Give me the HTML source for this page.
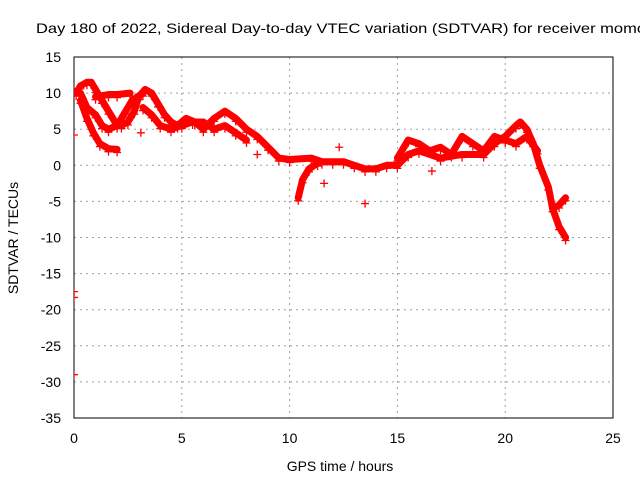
<!DOCTYPE html>
<html><head><meta charset="utf-8"><style>
html,body{margin:0;padding:0;background:#fff;overflow:hidden}
svg{display:block;font-family:"Liberation Sans",sans-serif}
</style></head><body>
<svg id="chart" width="640" height="480" viewBox="0 0 640 480">
<text x="36" y="33" font-size="14" textLength="610" lengthAdjust="spacingAndGlyphs" fill="#000">Day 180 of 2022, Sidereal Day-to-day VTEC variation (SDTVAR) for receiver momo</text>
<g id="grid"></g><g id="axes"></g>
<g id="series" clip-path="url(#clip)"></g>
<defs><clipPath id="clip"><rect x="74" y="57" width="539" height="361"/></clipPath></defs>
<text x="340" y="471" font-size="14" text-anchor="middle">GPS time / hours</text>
<text transform="translate(18,238) rotate(-90)" font-size="14" text-anchor="middle">SDTVAR / TECUs</text>
</svg>
<script>
const xTicks=[0,5,10,15,20,25];
const yTicks=[15,10,5,0,-5,-10,-15,-20,-25,-30,-35];
const seriesA=[[0.1,10],[0.3,11],[0.6,11.5],[0.8,11.5],[1.0,10.5],[1.3,9],[1.6,7.5],[1.9,6],[2.2,5.5],[2.5,6],[2.8,7.5],[3.0,9.5],[3.3,10.5],[3.6,10],[3.9,8.5],[4.2,7],[4.5,6],[4.8,5.5],[5.2,6.5],[5.6,6],[6.0,5],[6.5,6.5],[7.0,7.5],[7.5,6.5],[8.0,5],[8.5,4],[9.0,2.5],[9.5,1],[10,0.8],[11,1],[11.5,0.5],[12,0.5],[12.5,0.5],[13,0],[13.5,-0.5],[14,-0.5],[14.5,0],[15,0],[15.5,1.5],[16,2],[17,1],[18,1.5],[19,1.5],[19.5,3],[20,4],[20.5,5.5],[20.7,6],[21,5],[21.3,3],[21.6,0],[22,-3],[22.2,-6],[22.5,-8.5],[22.8,-10]];
const seriesB=[[0.3,10],[0.6,8],[1.0,7],[1.3,5.5],[1.6,5],[2.0,5.5],[2.4,7.5],[2.7,9],[3.2,10]];
const seriesB2=[[1.0,9.5],[1.6,9.8],[2.0,9.8],[2.6,10]];
const seriesC=[[0.3,9],[0.6,6.5],[0.9,4.5],[1.2,3],[1.6,2.3],[2.0,2.2]];
const seriesD=[[3.2,8],[3.6,7],[4.0,5.5],[4.5,5],[5,5.5],[5.5,6],[6,6],[6.5,5],[7,5.5],[7.5,4.5],[8,3.5]];
const seriesE=[[10.4,-4.5],[10.6,-2],[10.9,-0.5],[11.3,0.3]];
const seriesF=[[15,1],[15.5,3.5],[16,3],[16.5,2],[17,2.5],[17.5,1.5],[18,4],[18.5,3],[19,2],[19.5,4],[20,3.5],[20.5,3],[21,4],[21.5,2]];
const seriesG=[[22.2,-6],[22.5,-5.5],[22.8,-4.5]];
const outliers=[[0,4.2],[0,-17.5],[0,-18.3],[0,-29],[13.5,-5.3],[3.1,4.5],[8.5,1.5],[12.3,2.5],[11.6,-2.5],[16.6,-0.8]];
const NS='http://www.w3.org/2000/svg';
const X=v=>74+v*(613-74)/25;
const Y=v=>57+(15-v)*(418-57)/50;
function mk(t,a,p){const e=document.createElementNS(NS,t);for(const k in a)e.setAttribute(k,a[k]);p.appendChild(e);return e;}
const grid=document.getElementById('grid'),axes=document.getElementById('axes'),ser=document.getElementById('series');
xTicks.forEach(t=>{
 if(t>0&&t<25){const l=mk('line',{x1:X(t),x2:X(t),y1:57,y2:418,stroke:'#a0a0a0','stroke-dasharray':'2,4'},grid);
 
 }
 const tx=mk('text',{x:X(t),y:443,'font-size':14,'text-anchor':'middle'},axes);tx.textContent=t;
 
 
});
yTicks.forEach(t=>{
 if(t<15&&t>-35){const l=mk('line',{x1:74,x2:613,y1:Y(t),y2:Y(t),stroke:'#a0a0a0','stroke-dasharray':'2,4'},grid);
 
 }
 const tx=mk('text',{x:61,y:Y(t)+5,'font-size':14,'text-anchor':'end'},axes);tx.textContent=t;
 
 
});
const fr=mk('rect',{x:74,y:57,width:539,height:361,fill:'none',stroke:'#000','stroke-width':1},axes);


function plus(x,y){const p=mk('path',{d:`M${x-4},${y}h8M${x},${y-4}v8`,stroke:'#f00','stroke-width':1.3},ser);
 
 }
[seriesA,seriesB,seriesB2,seriesC,seriesD,seriesE,seriesF,seriesG].forEach(s=>{
 const pl=mk('polyline',{points:s.map(d=>X(d[0])+','+Y(d[1])).join(' '),fill:'none',stroke:'#f00','stroke-width':7,'stroke-linejoin':'round','stroke-linecap':'round'},ser);
 
 
 s.forEach(d=>plus(X(d[0]),Y(d[1])+3));
});
outliers.forEach(d=>plus(X(d[0]),Y(d[1])));
</script>
</body></html>
